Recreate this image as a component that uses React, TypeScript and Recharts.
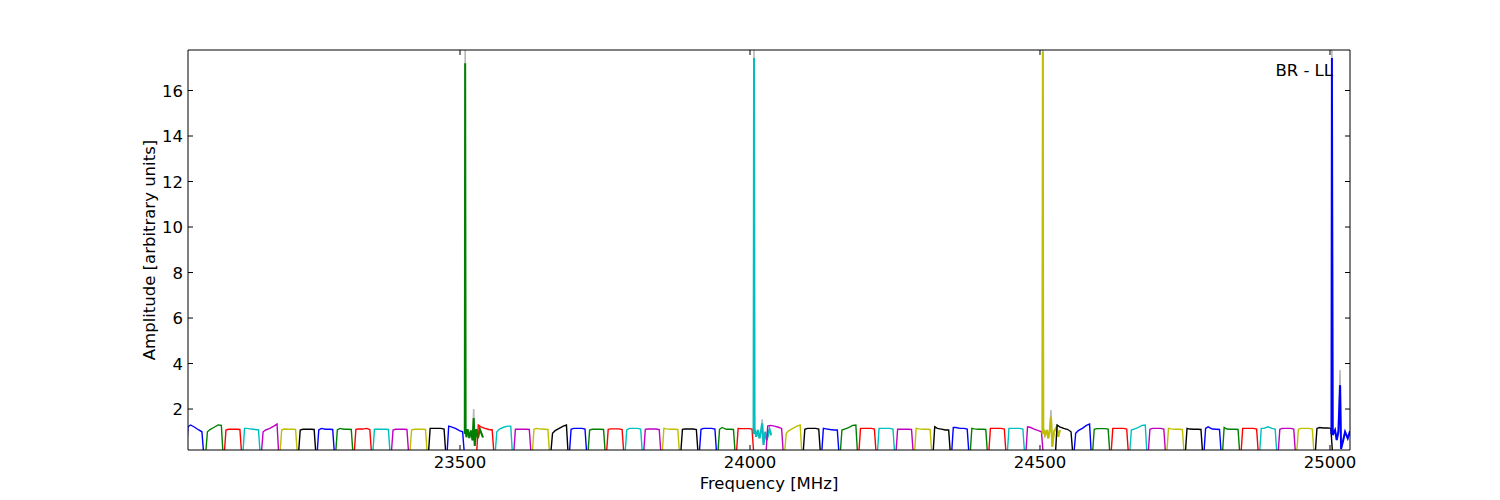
import React from 'react';
import { LineChart, Line, XAxis, YAxis, Label } from 'recharts';

// matplotlib classic colour cycle: b, g, r, c, m, y, k
const COLORS = ['#0000ff', '#008000', '#ff0000', '#00bfbf', '#bf00bf', '#bfbf00', '#000000'];
const GRAY = '#b8b8b8';
const FONT = '"DejaVu Sans", sans-serif';
const FONT_SIZE = 16.5;

const xTicks = [23500, 24000, 24500, 25000];
const yTicks = [2, 4, 6, 8, 10, 12, 14, 16];
const xDomain: [number, number] = [23031, 25034.5];
const yDomain: [number, number] = [0.2, 17.78];

const xTitle = 'Frequency [MHz]';
const yTitle = 'Amplitude [arbitrary units]';
const panelTitle = 'BR - LL';

// Regular sub-bands: 15 per 500 MHz block, 32 MHz apart
const blockStarts = [23030, 23529, 24028, 24527];
const firstBandStart = 23028.5;
const bandSpacing = 32;
const bandShapeOffsets = [0, 2.5, 7, 14, 21, 26.5, 29];
const floorLevel = 0.2;

const block0Levels = [
  [1.22, 1.3, 1.2, 1.08, 1.0],
  [1.0, 1.1, 1.2, 1.3, 1.28],
  [1.08, 1.11, 1.11, 1.11, 1.1],
  [1.15, 1.15, 1.12, 1.1, 1.08],
  [1.0, 1.08, 1.15, 1.25, 1.34],
  [1.08, 1.12, 1.11, 1.11, 1.1],
  [1.08, 1.11, 1.11, 1.11, 1.1],
  [1.08, 1.15, 1.11, 1.11, 1.1],
  [1.08, 1.15, 1.11, 1.11, 1.1],
  [1.11, 1.12, 1.12, 1.15, 1.1],
  [1.11, 1.11, 1.11, 1.11, 1.1],
  [1.08, 1.11, 1.11, 1.11, 1.1],
  [1.08, 1.11, 1.11, 1.11, 1.1],
  [1.15, 1.15, 1.15, 1.15, 1.12],
  [1.25, 1.22, 1.15, 1.05, 1.0],
];
const block1Levels = [
  [1.3, 1.22, 1.15, 1.1, 1.08],
  [1.0, 1.12, 1.2, 1.25, 1.25],
  [1.11, 1.11, 1.11, 1.11, 1.1],
  [1.11, 1.15, 1.12, 1.11, 1.1],
  [0.93, 1.05, 1.15, 1.25, 1.3],
  [1.11, 1.15, 1.15, 1.15, 1.12],
  [1.08, 1.11, 1.11, 1.11, 1.1],
  [1.11, 1.13, 1.13, 1.13, 1.1],
  [1.08, 1.15, 1.15, 1.15, 1.12],
  [1.11, 1.12, 1.12, 1.12, 1.1],
  [1.15, 1.13, 1.11, 1.11, 1.1],
  [1.11, 1.12, 1.12, 1.12, 1.1],
  [1.11, 1.15, 1.15, 1.15, 1.12],
  [1.11, 1.19, 1.11, 1.11, 1.1],
  [1.15, 1.14, 1.14, 1.14, 1.12],
];
const block2Levels = [
  [1.25, 1.28, 1.25, 1.2, 1.15],
  [0.93, 1.05, 1.15, 1.25, 1.3],
  [1.11, 1.15, 1.15, 1.15, 1.12],
  [1.15, 1.13, 1.1, 1.08, 1.08],
  [1.08, 1.12, 1.18, 1.28, 1.3],
  [1.15, 1.15, 1.15, 1.15, 1.12],
  [1.15, 1.15, 1.15, 1.15, 1.12],
  [1.11, 1.11, 1.11, 1.11, 1.1],
  [1.15, 1.13, 1.11, 1.11, 1.1],
  [1.22, 1.15, 1.12, 1.08, 1.08],
  [1.19, 1.19, 1.15, 1.15, 1.12],
  [1.15, 1.13, 1.11, 1.11, 1.1],
  [1.15, 1.15, 1.15, 1.15, 1.12],
  [1.15, 1.15, 1.15, 1.15, 1.12],
  [1.22, 1.2, 1.12, 1.05, 1.0],
];
const block3Levels = [
  [1.3, 1.22, 1.15, 1.1, 1.0],
  [0.93, 1.05, 1.15, 1.28, 1.34],
  [1.11, 1.14, 1.14, 1.14, 1.12],
  [1.15, 1.15, 1.15, 1.15, 1.12],
  [1.08, 1.12, 1.18, 1.28, 1.3],
  [1.11, 1.15, 1.15, 1.15, 1.12],
  [1.15, 1.13, 1.11, 1.11, 1.1],
  [1.15, 1.12, 1.11, 1.11, 1.1],
  [1.15, 1.22, 1.12, 1.11, 1.1],
  [1.19, 1.12, 1.11, 1.11, 1.1],
  [1.15, 1.15, 1.15, 1.15, 1.12],
  [1.15, 1.15, 1.22, 1.15, 1.12],
  [1.11, 1.15, 1.15, 1.15, 1.12],
  [1.11, 1.15, 1.15, 1.15, 1.12],
  [1.15, 1.19, 1.17, 1.17, 1.15],
];
const blockLevels = [block0Levels, block1Levels, block2Levels, block3Levels];

// Sub-bands holding the strong spike (one per block)
const spikeFreqs = [23508.6, 24006.6, 24504.6, 25003];
const spikeOffsets = [
  [-0.4, 0.3, 1.0, 2.5, 4.5, 7.5, 10, 13, 15, 16.8, 19.5, 22.5, 25.5, 28, 31],
  [-0.4, 0.3, 1.2, 4.1, 6.9, 9.8, 12.7, 14.4, 16.7, 19.6, 22.4, 27, 30],
  [-0.4, 0.3, 1.1, 4.0, 6.9, 9.7, 12.6, 14.3, 16.6, 19.5, 24.1, 27, 29.8],
  [-0.4, 0.3, 1.7, 5.7, 8.6, 11.5, 14.4, 16.1, 19.5, 23, 27.6, 31.5],
];
const spikeValues = [
  [0.9, 17.2, 1.12, 0.76, 1.12, 0.72, 1.06, 0.62, 1.6, 0.38, 1.12, 0.72, 1.12, 0.95, 0.75],
  [0.9, 17.43, 1.15, 0.78, 1.08, 0.71, 1.08, 1.37, 0.42, 1.0, 0.64, 1.12, 0.85],
  [0.9, 17.7, 1.15, 0.85, 1.08, 0.71, 1.15, 1.66, 0.34, 1.0, 1.22, 0.78, 1.08],
  [0.9, 17.43, 0.86, 1.08, 0.64, 1.0, 3.05, 0.24, 0.6, 1.0, 0.71, 1.03],
];
const spikeGray = [
  [0.9, 17.78, 1.12, 0.76, 1.12, 0.72, 1.06, 0.62, 2.0, 0.38, 1.12, 0.72, 1.12, 0.95, 0.75],
  [0.9, 17.78, 1.15, 0.78, 1.08, 0.71, 1.08, 1.55, 0.42, 1.0, 0.64, 1.12, 0.85],
  [0.9, 17.78, 1.15, 0.85, 1.08, 0.71, 1.15, 1.96, 0.34, 1.0, 1.22, 0.78, 1.08],
  [0.9, 17.78, 0.86, 1.08, 0.64, 1.0, 3.71, 0.24, 0.6, 1.0, 0.71, 1.03],
];

type Pt = { f: number; v: number };
type Series = { id: string; color: string; width: number; data: Pt[] };

const graySeries: Series[] = spikeFreqs.map((sf, s) => ({
  id: `gray-${s}`,
  color: GRAY,
  width: 1.6,
  data: spikeOffsets[s].map((o, i) => ({ f: sf + o, v: spikeGray[s][i] })),
}));

const colorSeries: Series[] = [];
blockLevels.forEach((levels, b) => {
  levels.forEach((lv, k) => {
    const start = b === 0 && k === 0 ? firstBandStart : blockStarts[b] + k * bandSpacing;
    const vals = [floorLevel, ...lv, floorLevel];
    colorSeries.push({
      id: `band-${b}-${k}`,
      color: COLORS[(b * 16 + k) % 7],
      width: 1.4,
      data: bandShapeOffsets.map((o, i) => ({ f: start + o, v: vals[i] })),
    });
  });
  const sf = spikeFreqs[b];
  colorSeries.push({
    id: `spike-${b}`,
    color: COLORS[(b * 16 + 15) % 7],
    width: 2,
    data: spikeOffsets[b].map((o, i) => ({ f: sf + o, v: spikeValues[b][i] })),
  });
});

const allSeries = [...graySeries, ...colorSeries];

const TICK_LEN = 5;

const BottomTick = (props: any) => {
  const { x, y, payload } = props;
  return (
    <g>
      <line x1={x} x2={x} y1={y} y2={y - TICK_LEN} stroke="#000" strokeWidth={1} />
      <text x={x} y={y + 18} textAnchor="middle" fontFamily={FONT} fontSize={FONT_SIZE} fill="#000">
        {payload.value}
      </text>
    </g>
  );
};

const TopTick = (props: any) => {
  const { x, y } = props;
  return <line x1={x} x2={x} y1={y} y2={y + TICK_LEN} stroke="#000" strokeWidth={1} />;
};

const LeftTick = (props: any) => {
  const { x, y, payload } = props;
  return (
    <g>
      <line x1={x} x2={x + TICK_LEN} y1={y} y2={y} stroke="#000" strokeWidth={1} />
      <text x={x - 5} y={y + 6} textAnchor="end" fontFamily={FONT} fontSize={FONT_SIZE} fill="#000">
        {payload.value}
      </text>
    </g>
  );
};

const RightTick = (props: any) => {
  const { x, y } = props;
  return <line x1={x} x2={x - TICK_LEN} y1={y} y2={y} stroke="#000" strokeWidth={1} />;
};

export default function App() {
  return (
    <div style={{ position: 'absolute', left: 0, top: 0, width: 1500, height: 500, background: '#fff' }}>
      <LineChart width={1500} height={500} margin={{ top: 49, right: 149, bottom: 0, left: 0 }}>
        <XAxis
          xAxisId={0}
          dataKey="f"
          type="number"
          domain={xDomain}
          allowDataOverflow
          ticks={xTicks}
          interval={0}
          tickLine={false}
          tickSize={0}
          tickMargin={0}
          tick={<BottomTick />}
          height={50}
          axisLine={{ stroke: '#000', strokeWidth: 1 }}
        >
          <Label
            content={(p: any) => {
              const vb = p.viewBox;
              return (
                <text x={vb.x + vb.width / 2} y={vb.y + 39} textAnchor="middle" fontFamily={FONT} fontSize={FONT_SIZE} fill="#000">
                  {xTitle}
                </text>
              );
            }}
          />
        </XAxis>
        <XAxis
          xAxisId="top"
          orientation="top"
          dataKey="f"
          type="number"
          domain={xDomain}
          allowDataOverflow
          ticks={xTicks}
          interval={0}
          tickLine={false}
          tickSize={0}
          tickMargin={0}
          tick={<TopTick />}
          height={1}
          axisLine={{ stroke: '#000', strokeWidth: 1 }}
        >
          <Label
            content={(p: any) => {
              const vb = p.viewBox;
              return (
                <text x={vb.x + vb.width - 17} y={vb.y + vb.height + 26} textAnchor="end" fontFamily={FONT} fontSize={FONT_SIZE} fill="#000">
                  {panelTitle}
                </text>
              );
            }}
          />
        </XAxis>
        <YAxis
          yAxisId={0}
          type="number"
          domain={yDomain}
          allowDataOverflow
          ticks={yTicks}
          interval={0}
          tickLine={false}
          tickSize={0}
          tickMargin={0}
          tick={<LeftTick />}
          width={188}
          axisLine={{ stroke: '#000', strokeWidth: 1 }}
        >
          <Label
            content={(p: any) => {
              const vb = p.viewBox;
              const cx = vb.x + 149;
              const cy = vb.y + vb.height / 2;
              return (
                <text
                  x={cx}
                  y={cy}
                  transform={`rotate(-90, ${cx}, ${cy})`}
                  textAnchor="middle"
                  dominantBaseline="central"
                  fontFamily={FONT}
                  fontSize={FONT_SIZE}
                  fill="#000"
                >
                  {yTitle}
                </text>
              );
            }}
          />
        </YAxis>
        <YAxis
          yAxisId="right"
          orientation="right"
          type="number"
          domain={yDomain}
          allowDataOverflow
          ticks={yTicks}
          interval={0}
          tickLine={false}
          tickSize={0}
          tickMargin={0}
          tick={<RightTick />}
          width={1}
          axisLine={{ stroke: '#000', strokeWidth: 1 }}
        />
        {allSeries.map((s) => (
          <Line
            key={s.id}
            data={s.data}
            dataKey="v"
            xAxisId={0}
            yAxisId={0}
            type="linear"
            stroke={s.color}
            strokeWidth={s.width}
            dot={false}
            activeDot={false}
            isAnimationActive={false}
            legendType="none"
          />
        ))}
      </LineChart>
    </div>
  );
}
